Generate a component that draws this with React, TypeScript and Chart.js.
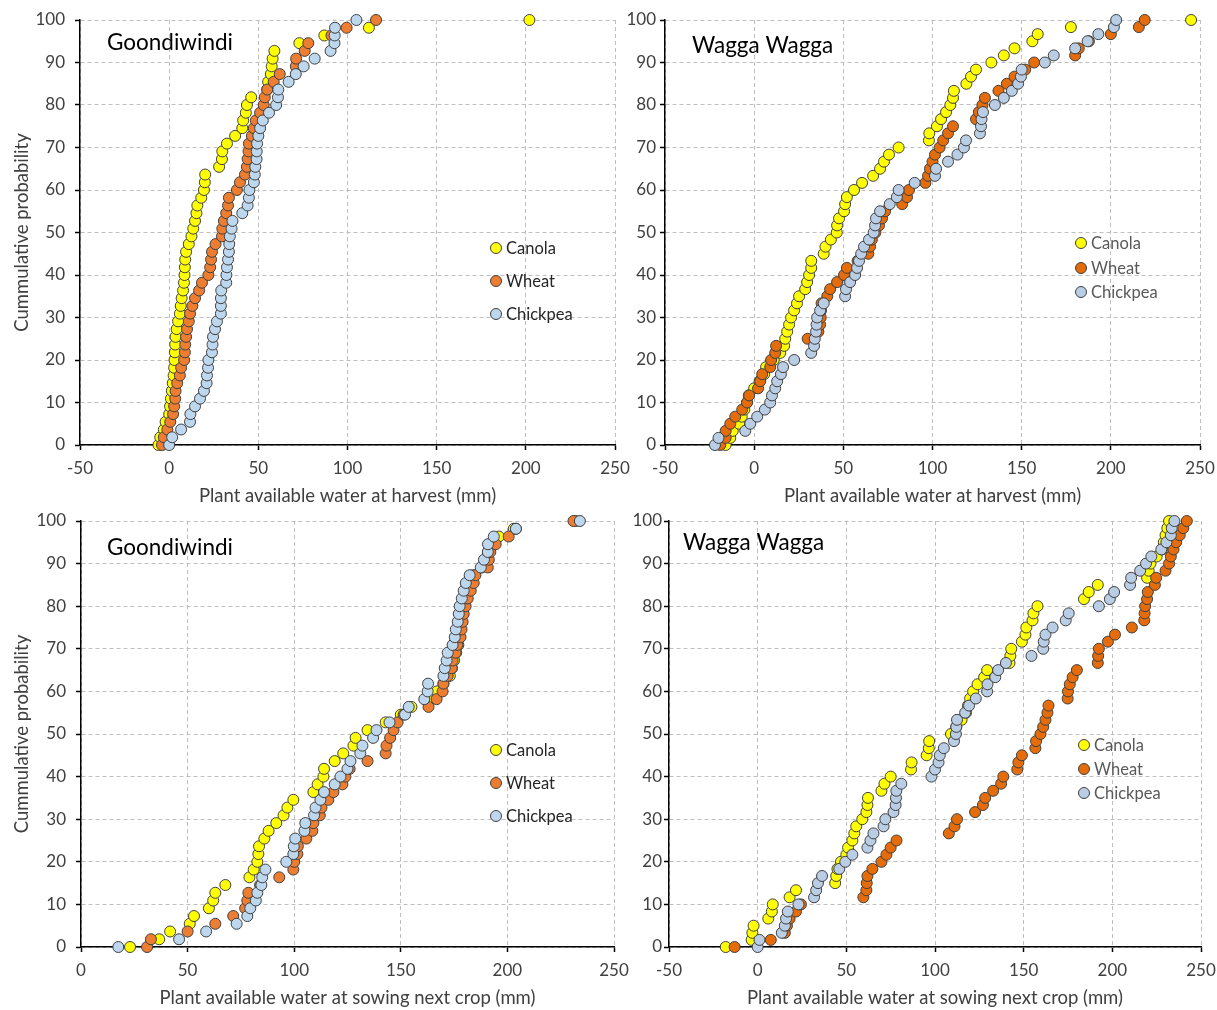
import React, { useEffect, useRef } from 'react';
import { Chart, registerables } from 'chart.js';

Chart.register(...registerables);

const FONT = "Lato, 'Liberation Sans', Arial, sans-serif";

// Cumulative probability levels (%), one per ranked year
const PROB_GOONDIWINDI = [0, 1.82, 3.64, 5.45, 7.27, 9.09, 10.91, 12.73, 14.55, 16.36, 18.18, 20, 21.82, 23.64, 25.45, 27.27, 29.09, 30.91, 32.73, 34.55, 36.36, 38.18, 40, 41.82, 43.64, 45.45, 47.27, 49.09, 50.91, 52.73, 54.55, 56.36, 58.18, 60, 61.82, 63.64, 65.45, 67.27, 69.09, 70.91, 72.73, 74.55, 76.36, 78.18, 80, 81.82, 83.64, 85.45, 87.27, 89.09, 90.91, 92.73, 94.55, 96.36, 98.18, 100];
const PROB_WAGGA = [0, 1.67, 3.33, 5, 6.67, 8.33, 10, 11.67, 13.33, 15, 16.67, 18.33, 20, 21.67, 23.33, 25, 26.67, 28.33, 30, 31.67, 33.33, 35, 36.67, 38.33, 40, 41.67, 43.33, 45, 46.67, 48.33, 50, 51.67, 53.33, 55, 56.67, 58.33, 60, 61.67, 63.33, 65, 66.67, 68.33, 70, 71.67, 73.33, 75, 76.67, 78.33, 80, 81.67, 83.33, 85, 86.67, 88.33, 90, 91.67, 93.33, 95, 96.67, 98.33, 100];

// Plant available water at harvest (mm)
const GOON_HARVEST_CANOLA = [-6, -5, -3, -2, 0, 0.5, 1, 1.5, 2, 2.5, 2.8, 3, 3.2, 3.4, 3.6, 4.2, 5, 6, 6.5, 7, 7.8, 8.3, 8.6, 8.8, 9, 9.5, 11, 12.5, 13.5, 14.5, 15.3, 15.8, 18, 19.5, 20, 20.2, 28, 29.6, 29.8, 32.4, 37, 41, 41.5, 43, 43.6, 46, 55, 55.5, 57, 57.5, 58, 59, 73, 87, 112, 202];
const GOON_HARVEST_WHEAT = [-4, -3, -1, 0.6, 2.2, 2.8, 3.4, 3.6, 4.5, 6, 6.7, 8.4, 8.8, 9, 9.5, 10, 11, 11.7, 13, 14.5, 16.8, 18.4, 22, 23, 23.5, 24, 26, 29.6, 29.8, 30.7, 32, 33, 33.5, 38, 39.7, 42.5, 43.6, 44, 44.5, 44.7, 46.4, 47.5, 48.6, 51, 53, 53.6, 55, 58.6, 62, 71, 71.2, 76, 78, 91, 99.5, 116];
const GOON_HARVEST_CHICKPEA = [0, 1.7, 6.7, 11.7, 11.9, 14.5, 17.3, 19.5, 21, 21.2, 21.8, 22, 24, 24.3, 24.6, 25.7, 26.8, 29, 29, 29, 29.2, 32, 32.1, 32.4, 33, 33.5, 33.7, 34, 35, 35.5, 41, 44, 44.7, 45, 47.5, 48, 48.3, 49, 49.1, 49.3, 50, 51, 52.5, 56, 60, 61, 61.2, 67, 71, 75.4, 81.6, 90.5, 92.7, 92.8, 93, 105];

const WAGGA_HARVEST_CANOLA = [-16, -13.4, -12, -8.4, -7, -5.5, -4, -3, 0, 3, 5.6, 6.7, 11, 14.6, 16.8, 17.4, 18.5, 19.6, 20.7, 22.4, 24, 25.2, 28.6, 29.7, 30.8, 32, 32, 39, 40, 43, 46.3, 46.5, 47.6, 50.4, 51, 52, 56, 60.5, 66.7, 70.6, 72.8, 75.6, 81, 98, 98.2, 102.5, 104.8, 107.6, 110, 111.5, 112, 119, 121.6, 124.4, 133, 140, 146, 156, 159, 177.6, 245];
const WAGGA_HARVEST_WHEAT = [-19, -16, -16, -13.4, -10.6, -6.7, -4, -2.8, 2.2, 3.4, 4.5, 9, 9.5, 11.8, 12.3, 30, 36, 37, 37.3, 37.5, 37.8, 41, 42.6, 46.5, 50.4, 52, 58, 64, 65, 66, 68, 70, 71.7, 73.4, 83, 85.7, 86.8, 96, 97.5, 98.6, 100, 101.4, 104, 106, 108.7, 111.5, 124.4, 126, 128, 129.4, 137, 141.7, 146, 152, 157, 180, 182, 187.7, 200, 215.7, 219];
const WAGGA_HARVEST_CHICKPEA = [-22, -20, -5, -2.2, 1.7, 6, 9, 10, 11.8, 12.9, 15, 16.2, 22.4, 32, 33.6, 34, 34.7, 35, 35.3, 37, 39, 51, 51.5, 53.8, 56.6, 57.7, 58.8, 60, 61.6, 64.4, 67, 67.8, 68.3, 70.6, 76, 80, 81, 90, 101.4, 102, 108.7, 114, 117.6, 118.8, 126.6, 127.2, 127.5, 128.3, 135, 140, 144.5, 148, 149.6, 150, 163, 168, 180, 187, 193, 201.7, 203];

// Plant available water at sowing next crop (mm)
const GOON_SOWING_CANOLA = [23, 36.7, 41.8, 51, 53, 60, 62, 63, 67.7, 79, 81, 82.7, 83.2, 83.5, 86, 88, 91.6, 95, 96.8, 99.6, 109, 111, 113.7, 114, 119, 123, 127.8, 128.8, 134.4, 142.9, 150, 155, 164, 167, 170, 173, 174, 175, 176, 177, 177.5, 178, 178.5, 179, 180, 180.5, 181.5, 182.5, 184, 188, 190, 191, 193, 196, 203, 232];
const GOON_SOWING_WHEAT = [31, 32.8, 50, 63, 71.4, 77, 78, 78.5, 84, 93, 99.6, 100, 101.5, 101.7, 105.7, 108.5, 109, 112, 112.8, 116, 118.4, 122.6, 124, 126, 134.4, 142.9, 143.3, 145, 146.6, 148.5, 151.3, 163, 166.8, 169.6, 170, 172, 173.9, 174.3, 175.7, 176.5, 178, 178.5, 179, 179.5, 180.4, 181.4, 182.8, 184.2, 185, 190.8, 191.3, 192, 194.5, 200.6, 204, 231];
const GOON_SOWING_CHICKPEA = [17.5, 46, 58.7, 73, 78, 79.4, 82, 82.7, 84.6, 85, 86.5, 96.3, 99.6, 99.8, 100.5, 104.8, 105.2, 109.3, 110, 112.3, 114, 119, 121.7, 125, 126.4, 131, 132, 137, 138.6, 144.7, 152, 153.7, 161, 162.6, 162.8, 170, 170.6, 171.5, 172, 174.3, 175.3, 175.8, 176.7, 177.2, 177.6, 178.6, 179.5, 180.5, 182.3, 187.5, 189, 190.8, 190.9, 193.6, 204, 234];

const WAGGA_SOWING_CANOLA = [-18, -3.4, -3, -2.3, 6, 8, 8.5, 18, 21.6, 43.7, 44.3, 45, 47, 50, 51, 53.4, 54.5, 55.6, 59, 61.3, 61.9, 62.2, 69.8, 71.5, 75, 86.5, 86.8, 95.3, 96.5, 96.7, 109, 112, 115, 117.5, 118.6, 119.8, 121.5, 124, 127.7, 129.4, 142, 142.5, 143, 149, 151, 151.5, 155, 155.5, 157.8, 184, 186.7, 191.8, 219.6, 220.5, 221.5, 225, 228, 229, 230, 231, 232];
const WAGGA_SOWING_WHEAT = [-13, 7.4, 15.3, 16.5, 18, 21.6, 24.4, 59.6, 61.3, 61.5, 61.9, 64.7, 69.8, 72.6, 75, 78.3, 107.8, 111, 112.4, 122.6, 127, 128.3, 132.8, 137.3, 138.5, 146.4, 147, 149, 156.6, 157, 159.5, 161, 162.3, 163.4, 164, 174.8, 175, 176, 177.6, 180, 191.8, 192, 192.4, 197.5, 201.5, 211, 218, 218.2, 218.5, 219.6, 220, 224, 224.7, 230, 232, 233, 234.5, 236, 238, 240, 242];
const WAGGA_SOWING_CHICKPEA = [0, 1, 13.6, 15.3, 16, 17, 23, 31.8, 33, 34, 36.3, 46, 49.4, 53.4, 61.9, 63.6, 65.3, 71, 72, 76.6, 77.8, 78, 78.2, 81, 98, 100, 102, 102.7, 105, 110.7, 111.8, 112, 112.4, 117, 119.2, 123, 129.4, 129.6, 134, 135.6, 140, 154.4, 161, 161.3, 162.3, 166.3, 173.7, 175.4, 192.4, 198.6, 201, 210, 210.6, 215.7, 219, 222, 227.6, 230.5, 233, 233.5, 235];

const SERIES_NAMES = ['Canola', 'Wheat', 'Chickpea'];
const COLORS_GOON = ['#FFFF00', '#ED7D31', '#BDD7EE'];
const COLORS_WAGGA = ['#FFFF00', '#E46C0A', '#B9CDE5'];

type Area = { left: number; top: number; right: number; bottom: number };
type PanelProps = {
  left: number; top: number; width: number; height: number;
  area: Area;
  xMin: number; xMax: number;
  prob: number[];
  xs: number[][];
  colors: string[];
  site: string; siteX: number; siteY: number;
  legendX: number; legendTextX: number; legendYs: number[]; legendColor: string;
  xTitle: string;
  xTitlePadBottom: number;
  yTitle?: string;
  yLabelPad: number;
};

function Panel(p: PanelProps) {
  const ref = useRef<HTMLCanvasElement | null>(null);
  useEffect(() => {
    if (!ref.current) return;
    const overlay = {
      id: 'overlay',
      afterDraw(chart: any) {
        const ctx = chart.ctx as CanvasRenderingContext2D;
        ctx.save();
        ctx.textAlign = 'left';
        ctx.textBaseline = 'middle';
        ctx.font = `22.5px ${FONT}`;
        ctx.fillStyle = '#000000';
        ctx.fillText(p.site, p.siteX - p.left, p.siteY - p.top);
        SERIES_NAMES.forEach((name, i) => {
          const cx = p.legendX - p.left;
          const cy = p.legendYs[i] - p.top;
          ctx.beginPath();
          ctx.arc(cx, cy, 5.5, 0, Math.PI * 2);
          ctx.fillStyle = p.colors[i];
          ctx.fill();
          ctx.lineWidth = 1;
          ctx.strokeStyle = '#404040';
          ctx.stroke();
          ctx.font = `16.5px ${FONT}`;
          ctx.fillStyle = p.legendColor;
          ctx.fillText(name, p.legendTextX - p.left, cy + 1);
        });
        ctx.restore();
      },
    };
    const datasets = SERIES_NAMES.map((name, i) => ({
      label: name,
      data: p.xs[i].map((x, k) => ({ x, y: p.prob[k] })),
      backgroundColor: p.colors[i],
      borderColor: '#404040',
      borderWidth: 1,
      pointRadius: 5.5,
      pointHoverRadius: 5.5,
      showLine: false,
      clip: false as any,
      order: 2 - i,
    }));
    const chart = new Chart(ref.current, {
      type: 'scatter',
      data: { datasets },
      options: {
        animation: false,
        responsive: false,
        events: [],
        layout: {
          padding: {
            left: 0,
            top: p.area.top - p.top,
            right: p.left + p.width - p.area.right,
            bottom: 0,
          },
        },
        plugins: { legend: { display: false }, tooltip: { enabled: false } },
        scales: {
          x: {
            type: 'linear',
            min: p.xMin,
            max: p.xMax,
            afterFit: (s: any) => {
              s.height = p.top + p.height - p.area.bottom;
              s.paddingLeft = 0; s.paddingRight = 0;
            },
            ticks: { stepSize: 50, color: '#404040', font: { family: FONT, size: 17 }, padding: 8 },
            grid: { color: '#BFBFBF', lineWidth: 1, tickLength: 5, tickColor: '#000000', tickWidth: 1.5 },
            border: { display: true, color: '#000000', width: 1.5, dash: [4, 3] },
            title: {
              display: true, text: p.xTitle, color: '#404040',
              font: { family: FONT, size: 18.5 }, padding: { top: 0, bottom: p.xTitlePadBottom },
            },
          },
          y: {
            type: 'linear',
            min: 0,
            max: 100,
            afterFit: (s: any) => {
              s.width = p.area.left - p.left;
              s.paddingTop = 0; s.paddingBottom = 0;
            },
            ticks: { stepSize: 10, color: '#404040', font: { family: FONT, size: 17 }, padding: p.yLabelPad },
            grid: { color: '#BFBFBF', lineWidth: 1, tickLength: 5, tickColor: '#000000', tickWidth: 1.5 },
            border: { display: true, color: '#000000', width: 1.5, dash: [4, 3] },
            title: {
              display: !!p.yTitle, text: p.yTitle || '', color: '#404040',
              font: { family: FONT, size: 18.5 }, padding: { top: 11, bottom: 0 },
            },
          },
        },
      } as any,
      plugins: [overlay],
    });
    return () => chart.destroy();
  }, []);
  return (
    <div style={{ position: 'absolute', left: p.left, top: p.top, width: p.width, height: p.height }}>
      <canvas ref={ref} width={p.width} height={p.height} style={{ width: p.width, height: p.height, display: 'block' }} />
    </div>
  );
}

export default function App() {
  return (
    <div style={{ position: 'absolute', left: 0, top: 0, width: 1217, height: 1010, background: '#ffffff', overflow: 'hidden' }}>
      <Panel
        left={0} top={0} width={640} height={510}
        area={{ left: 80, top: 20, right: 615, bottom: 445 }}
        xMin={-50} xMax={250} prob={PROB_GOONDIWINDI}
        xs={[GOON_HARVEST_CANOLA, GOON_HARVEST_WHEAT, GOON_HARVEST_CHICKPEA]}
        colors={COLORS_GOON}
        site="Goondiwindi" siteX={107} siteY={43}
        legendX={496} legendTextX={506} legendYs={[248, 281, 314]} legendColor="#262626"
        xTitle="Plant available water at harvest (mm)" xTitlePadBottom={3}
        yTitle="Cummulative probability" yLabelPad={10}
      />
      <Panel
        left={625} top={0} width={592} height={510}
        area={{ left: 665, top: 20, right: 1200, bottom: 445 }}
        xMin={-50} xMax={250} prob={PROB_WAGGA}
        xs={[WAGGA_HARVEST_CANOLA, WAGGA_HARVEST_WHEAT, WAGGA_HARVEST_CHICKPEA]}
        colors={COLORS_WAGGA}
        site="Wagga Wagga" siteX={692} siteY={46}
        legendX={1081} legendTextX={1091} legendYs={[243, 268, 292]} legendColor="#595959"
        xTitle="Plant available water at harvest (mm)" xTitlePadBottom={3}
        yLabelPad={4}
      />
      <Panel
        left={0} top={510} width={640} height={500}
        area={{ left: 81, top: 521, right: 614, bottom: 947 }}
        xMin={0} xMax={250} prob={PROB_GOONDIWINDI}
        xs={[GOON_SOWING_CANOLA, GOON_SOWING_WHEAT, GOON_SOWING_CHICKPEA]}
        colors={COLORS_GOON}
        site="Goondiwindi" siteX={107} siteY={548}
        legendX={496} legendTextX={506} legendYs={[750, 783, 816]} legendColor="#262626"
        xTitle="Plant available water at sowing next crop (mm)" xTitlePadBottom={1}
        yTitle="Cummulative probability" yLabelPad={10}
      />
      <Panel
        left={625} top={510} width={592} height={500}
        area={{ left: 669, top: 521, right: 1201, bottom: 947 }}
        xMin={-50} xMax={250} prob={PROB_WAGGA}
        xs={[WAGGA_SOWING_CANOLA, WAGGA_SOWING_WHEAT, WAGGA_SOWING_CHICKPEA]}
        colors={COLORS_WAGGA}
        site="Wagga Wagga" siteX={683} siteY={543}
        legendX={1084} legendTextX={1094} legendYs={[745, 769, 793]} legendColor="#595959"
        xTitle="Plant available water at sowing next crop (mm)" xTitlePadBottom={1}
        yLabelPad={2}
      />
    </div>
  );
}
